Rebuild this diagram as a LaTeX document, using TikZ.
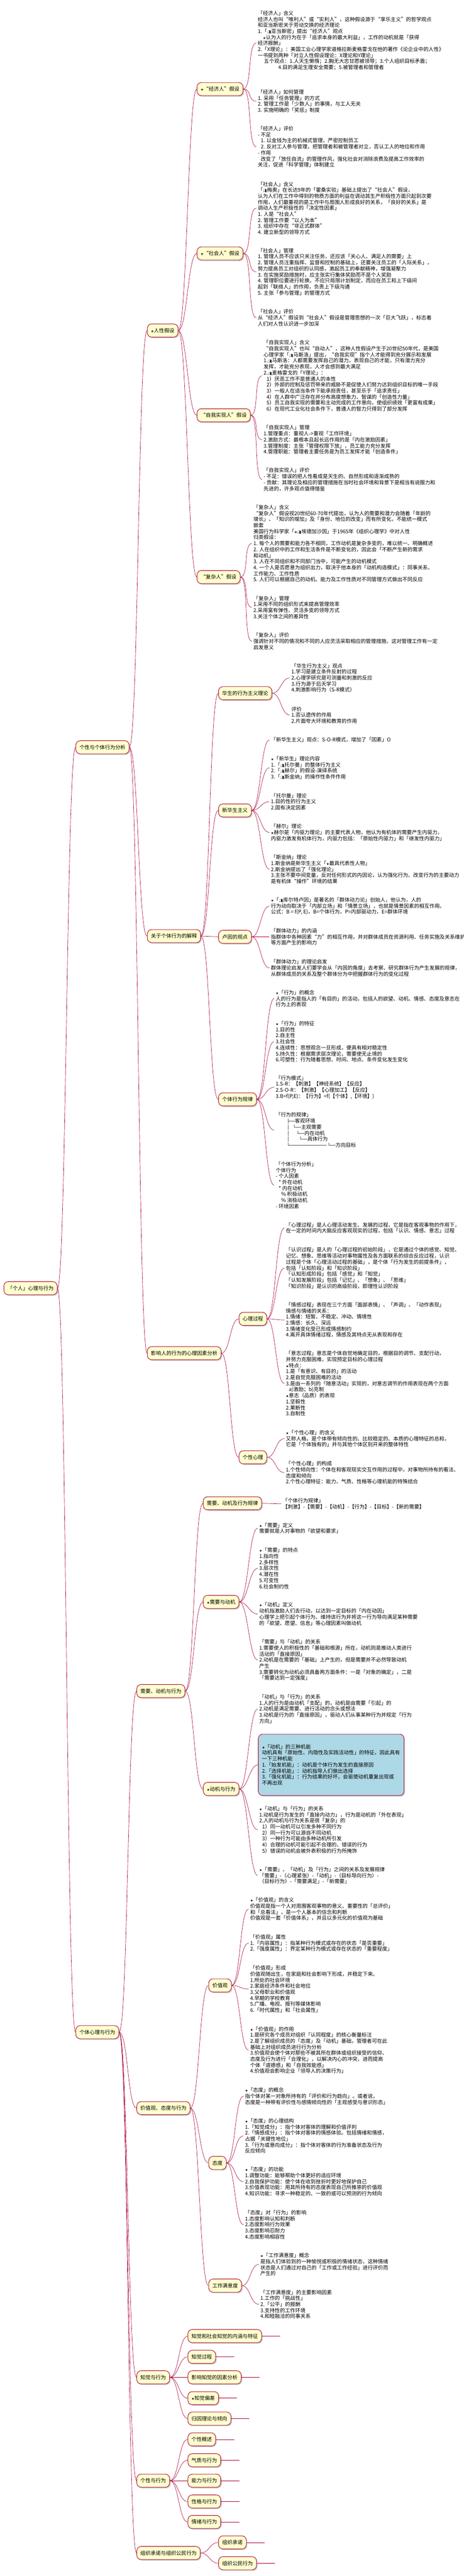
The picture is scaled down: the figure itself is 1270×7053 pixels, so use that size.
\documentclass[tikz,border=0pt]{standalone}
\usepackage{fontspec}
\setmainfont{Noto Sans CJK SC}
\newfontfamily\symfont{DejaVu Sans}
\newfontfamily\treefont{DejaVu Sans Mono}
\newfontfamily\emojifont{Noto Emoji}
\usetikzlibrary{shadows}
\definecolor{umlred}{HTML}{A80036}
\definecolor{umlyellow}{HTML}{FEFECE}
\definecolor{umlblue}{HTML}{ADD8E6}
\newcommand\xing{{\symfont\fontsize{9}{9}\selectfont★}}
\newcommand\renwu{{\emojifont\fontsize{9}{9}\selectfont 👥}}
\newcommand\tf{\treefont\fontsize{12}{16.5}\selectfont}

\begin{document}
\begin{tikzpicture}[x=1pt, y=-1pt, font=\fontsize{14}{16.5}\selectfont,
    topic/.style={draw=umlred, line width=1.3pt, fill=umlyellow, rounded corners=12pt, anchor=west, minimum height=36pt, inner xsep=10pt, drop shadow={shadow xshift=3pt, shadow yshift=-3pt, opacity=.35}},
    note/.style={anchor=west, align=left, inner xsep=4pt, inner ysep=1pt, xshift=-4pt},
    link/.style={draw=umlred, line width=.9pt, to path={(\tikztostart.east) .. controls ([xshift=24pt]\tikztostart.east) and ([xshift=-24pt]\tikztotarget.west) .. (\tikztotarget.west)}},
    stub/.style={draw=umlred, line width=.9pt}]
    \useasboundingbox (0,0) rectangle (1270,7053);

    \node[topic] (gr)   at (10,3527)  {「个人」心理与行为};
    \node[topic] (gxfx) at (207,2046) {个性与个体行为分析};
    \node[topic] (gtxl) at (207,5564) {个体心理与行为};

    \node[topic] (rxjs) at (403,905)  {\xing 人性假设};
    \node[topic] (jsxw) at (403,2563) {关于个体行为的解释};
    \node[topic] (yxxl) at (403,3705) {影响人的行为的心理因素分析};

    \node[topic] (jjr)  at (539,244)  {\xing“经济人”假设};
    \node[topic] (shr)  at (539,694)  {\xing“社会人”假设};
    \node[topic] (zwsx) at (539,1137) {“自我实现人”假设};
    \node[topic] (fzr)  at (539,1580) {“复杂人”假设};
    \node[topic] (hs)   at (598,1898) {华生的行为主义理论};
    \node[topic] (xhs)  at (598,2219) {新华生主义};
    \node[topic] (ly)   at (598,2565) {卢因的观点};
    \node[topic] (gtgl) at (598,3010) {个体行为规律};
    \node[topic] (xlgc) at (654,3611) {心理过程};
    \node[topic] (gxxl) at (654,3990) {个性心理};

    \node[topic] (xyd)  at (374,4630) {需要、动机与行为};
    \node[topic] (jzt)  at (374,5772) {价值观、态度与行为};
    \node[topic] (zj)   at (374,6509) {知觉与行为};
    \node[topic] (gx)   at (374,6792) {个性与行为};
    \node[topic] (zzcn) at (374,6990) {组织承诺与组织公民行为};

    \node[topic] (xdgl) at (556,4116) {需要、动机及行为规律};
    \node[topic] (xydj) at (556,4386) {\xing 需要与动机};
    \node[topic] (djxw) at (556,4898) {\xing 动机与行为};
    \node[topic] (jzg)  at (571,5436) {价值观};
    \node[topic] (td)   at (571,5922) {态度};
    \node[topic] (gzmy) at (571,6258) {工作满意度};

    \node[topic] (zj1) at (514,6396) {知觉和社会知觉的内涵与特征};
    \node[topic] (zj2) at (514,6453) {知觉过程};
    \node[topic] (zj3) at (514,6509) {影响知觉的因素分析};
    \node[topic] (zj4) at (514,6566) {\xing 知觉偏差};
    \node[topic] (zj5) at (514,6622) {归因理论与倾向};
    \node[topic] (gx1) at (514,6679) {个性概述};
    \node[topic] (gx2) at (514,6736) {气质与行为};
    \node[topic] (gx3) at (514,6792) {能力与行为};
    \node[topic] (gx4) at (514,6849) {性格与行为};
    \node[topic] (gx5) at (514,6905) {情绪与行为};
    \node[topic] (zz1) at (598,6961) {组织承诺};
    \node[topic] (zz2) at (598,7018) {组织公民行为};

    \node[note] (n1) at (706,118) {「经济人」含义\\经济人也叫“唯利人”或“实利人”，这种假设源于“享乐主义”的哲学观点\\和亚当斯密关于劳动交换的经济理论\\1.「\renwu 亚当斯密」提出“经济人”观点\\\hspace*{14pt}\xing 认为人的行为在于「追求本身的最大利益」，工作的动机就是「获得\\经济报酬」\\2.「X理论」：美国工业心理学家道格拉斯麦格雷戈在他的著作《论企业中的人性》\\一书提到两种「对立人性假设理论：X理论和Y理论」\\\hspace*{17pt}五个观点：1.人天生懒惰；2.胸无大志甘愿被领导；3.个人组织目标矛盾；\\\hspace*{56pt}4.目的满足生理安全需要；5.被管理者和管理者\\~};
    \node[note] (n2) at (706,277) {「经济人」如何管理\\1. 采用「任务管理」的方式\\2. 管理工作是「少数人」的事情，与工人无关\\3. 实施明确的「奖惩」制度};
    \node[note] (n3) at (706,402) {「经济人」评价\\- 不足\\\hspace*{8pt}1. 以金钱为主的机械式管理，严密控制员工\\\hspace*{8pt}2. 反对工人参与管理，把管理者和被管理者对立，否认工人的地位和作用\\- 作用\\\hspace*{8pt}改变了「放任自流」的管理作风，强化社会对消除浪费及提高工作效率的\\关注，促进「科学管理」体制建立};
    \node[note] (n4) at (706,570) {「社会人」含义\\「\renwu 梅奥」在长达9年的「霍桑实验」基础上提出了“社会人”假设，\\认为人们在工作中得到的物质方面的利益在调动其生产积极性方面只起到次要\\作用，人们最重视的是工作中与周围人形成良好的关系，「良好的关系」是\\调动人生产积极性的「决定性因素」\\1. 人是“社会人”\\2. 管理工作要“以人为本”\\3. 组织中存在“非正式群体”\\4. 建立新型的领导方式};
    \node[note] (n5) at (706,744) {「社会人」管理\\1. 管理人员不应该只关注任务，还应该「关心人、满足人的需要」上\\2. 管理人员注重指挥、监督和控制的基础上，还要关注员工的「人际关系」，\\努力提高员工对组织的认同感，激起员工的奉献精神，增强凝聚力\\3. 在实施奖励措施时，应主张实行集体奖励而不是个人奖励\\4. 管理职位要进行轮换，不应只局限计划制定，而应在员工和上下级间\\起到「联络人」的作用，负责上下级沟通\\5. 主张「参与管理」的管理方式};
    \node[note] (n6) at (706,870) {「社会人」评价\\从“经济人”假设到“社会人”假设是管理思想的一次「巨大飞跃」，标志着\\人们对人性认识进一步加深};
    \node[note] (n7) at (722,1029) {「自我实现人」含义\\“自我实现人”也叫“自动人”，这种人性假设产生于20世纪50年代，是美国\\心理学家「\renwu 马斯洛」提出，“自我实现”指个人才能得到充分展示和发展\\1.\renwu 马斯洛：人都需要发挥自己的潜力，表现自己的才能，只有潜力充分\\发挥，才能充分表现，人才会感到最大满足\\2.\renwu 麦格雷戈的「Y理论」：\\\hspace*{8pt}1）厌恶工作不是普通人的本性\\\hspace*{8pt}2）外部的控制及惩罚带来的威胁不是促使人们努力达到组织目标的唯一手段\\\hspace*{8pt}3）一般人在适当条件下能承担责任，甚至乐于「追求责任」\\\hspace*{8pt}4）在人群中广泛存在并分布高度想象力、智谋的「创造性力量」\\\hspace*{8pt}5）员工自我实现的需要和主动完成的工作意向，使组织绩效「更富有成果」\\\hspace*{8pt}6）在现代工业化社会条件下，普通人的智力只得到了部分发挥};
    \node[note] (n8) at (722,1204) {「自我实现人」管理\\1.管理重点：重视人->重视「工作环境」\\2.激励方式：最根本且起长远作用的是「内在激励因素」\\3.管理制度：主张「管理权限下放」，员工能力充分发挥\\4.管理职能：管理者主要任务是为员工发挥才能「创造条件」};
    \node[note] (n9) at (722,1313) {「自我实现人」评价\\- 不足：错误的把人性看成是天生的、自然形成和逐渐成熟的\\- 贡献：其理论及相应的管理措施在当时社会环境和背景下是相当有说服力和\\先进的，许多观点值得借鉴};
    \node[note] (n10) at (694,1488) {「复杂人」含义\\“复杂人”假设视20世纪60-70年代提出，认为人的需要和潜力会随着「年龄的\\增长」、「知识的增加」及「身份、地位的改变」而有所变化，不能统一模式\\嵌套\\美国行为科学家「\xing\renwu 埃德加沙因」于1965年《组织心理学》中对人性\\归类假设：\\1. 每个人的需要和能力各不相同，工作动机是复杂多变的，难以统一、明确概述\\2. 人在组织中的工作和生活条件是不断变化的，因此会「不断产生新的需求\\和动机」\\3. 人在不同组织和不同部门当中，可能产生的动机模式\\4. 一个人是否愿意为组织出力，取决于他本身的「动机构造模式」：同事关系、\\工作能力、工作性质\\5. 人们可以根据自己的动机、能力及工作性质对不同管理方式做出不同反应};
    \node[note] (n11) at (694,1663) {「复杂人」管理\\1.采用不同的组织形式来提高管理效率\\2.采用富有弹性、灵活多变的领导方式\\3.关注个体之间的差异性};
    \node[note] (n12) at (694,1756) {「复杂人」评价\\强调针对不同的情况和不同的人应灵活采取相应的管理措施，这对管理工作有一定\\启发意义};

    \node[note] (n13) at (798,1856) {「华生行为主义」观点\\1.学习是建立条件反射的过程\\2.心理学研究是可测量和刺激的反应\\3.行为源于后天学习\\4.刺激影响行为（S-R模式）};
    \node[note] (n14) at (798,1958) {评价\\1.否认遗传的作用\\2.片面夸大环境和教育的作用};
    \node[note] (n15) at (742,2026) {「新华生主义」观点：S-O-R模式，增加了「因素」O};
    \node[note] (n16) at (742,2102) {\xing「新华生」理论内容\\1.「\renwu 托尔曼」的整体行为主义\\2.「\renwu 赫尔」的假设-演绎系统\\3.「\renwu 斯金纳」的操作性条件作用};
    \node[note] (n17) at (742,2195) {「托尔曼」理论\\1.目的性的行为主义\\2.固有决定因素};
    \node[note] (n18) at (742,2279) {「赫尔」理论\\\xing 赫尔是「内驱力理论」的主要代表人物，他认为有机体的需要产生内驱力，\\内驱力激发有机体行为，内驱力包括：「原始性内驱力」和「继发性内驱力」};
    \node[note] (n19) at (742,2380) {「斯金纳」理论\\1.斯金纳是新华生主义「\xing 最具代表性人物」\\2.斯金纳提出了「强化理论」\\3.主张不要中间变量，反对任何形式的内因论，认为强化行为、改变行为的主要动力\\是有机体“操作”环境的结果};
    \node[note] (n20) at (742,2481) {\xing「\renwu 库尔特卢因」是著名的「群体动力论」创始人，他认为，人的\\行为动向取决于「内部立场」和「情景立场」，也就是情景因素的相互作用。\\公式：B = f(P, E)，B=个体行为，P=内部驱动力，E=群体环境};
    \node[note] (n21) at (742,2565) {「群体动力」的内涵\\指群体中各种因素“力”的相互作用，并对群体成员在资源利用、任务实施及关系维护\\等方面产生的影响力};
    \node[note] (n22) at (742,2650) {「群体动力」的理论启发\\群体理论启发人们要学会从「内因的角度」去考察、研究群体行为产生发展的规律，\\从群体成员的关系及整个群体分为中把握群体行为的变化过程};
    \node[note] (n23) at (755,2734) {\xing「行为」的概念\\人的行为是指人的「有目的」的活动，包括人的欲望、动机、情感、态度及意志在\\行为上的表现};
    \node[note] (n24) at (755,2852) {\xing「行为」的特征\\1.目的性\\2.自主性\\3.社会性\\4.连续性：思想观念一旦形成，便具有相对稳定性\\5.持久性：根据需求层次理论，需要使无止境的\\6.可塑性：行为随着思想、时间、地点、条件变化发生变化};
    \node[note] (n25) at (755,2977) {「行为模式」\\1.S-R：【刺激】【神经系统】【反应】\\2.S-O-R：【刺激】【心理加工】【反应】\\3.B=f(P,E)：【行为】=f(【个体】,【环境】)};
    \node[note] (n26) at (755,3094) {「行为的规律」\\\hspace*{31pt}{\tf ├──}客观环境\\\hspace*{31pt}\rlap{\tf │}\hspace*{17pt}{\tf └──}主观需要\\\hspace*{31pt}\rlap{\tf │}\hspace*{26pt}{\tf └──}内在动机\\\hspace*{31pt}\rlap{\tf │}\hspace*{34pt}{\tf └──}具体行为\\\hspace*{31pt}{\tf └──────────────}\hspace*{3pt}{\tf └──}方向目标};
    \node[note] (n27) at (755,3245) {「个体行为分析」\\个体行为\\- 个人因素\\\hspace*{8pt}* 外在动机\\\hspace*{8pt}* 内在动机\\\hspace*{15pt}\% 积极动机\\\hspace*{15pt}\% 消极动机\\- 环境因素};

    \node[note] (n28) at (783,3362) {「心理过程」是人心理活动发生、发展的过程，它是指在客观事物的作用下，\\在一定的时间内大脑反应客观现实的过程，包括「认识、情感、意志」过程};
    \node[note] (n29) at (783,3472) {「认识过程」是人的「心理过程的初始阶段」，它是通过个体的感觉、知觉、\\记忆、想象、思维等活动对事物属性及各方面联系的综合反应过程，认识\\过程是个体「心理活动过程的基础」，是个体「行为发生的前提条件」，\\包括「认知阶段」和「知识阶段」\\「认知形成阶段」包括「感觉」和「知觉」\\「认知发展阶段」包括「记忆」、「想象」、「思维」\\「知识阶段」是认识的高级阶段，即理性认识阶段};
    \node[note] (n30) at (783,3614) {「情感过程」表现在三个方面「面部表情」、「声调」、「动作表现」\\情感与情绪的关系：\\1.情绪：短暂、不稳定、冲动、情境性\\2.情感：长久、深远\\3.情绪变化受已形成情感制约\\4.离开具体情绪过程，情感及其特点无从表现和存在};
    \node[note] (n31) at (783,3788) {「意志过程」意志是个体自觉地确定目的，根据目的调节、支配行动，\\并努力克服困难，实现预定目标的心理过程\\\xing 特点：\\1.是「有意识、有目的」的活动\\2.是自觉克服困难的活动\\3.是由一系列的「随意活动」实现的，对意志调节的作用表现在两个方面\\\hspace*{8pt}a)激励；b)克制\\\xing 意志（品质）的表现\\1.坚毅性\\2.果断性\\3.自制性};
    \node[note] (n32) at (783,3939) {\xing「个性心理」的含义\\又称人格，是个体带有倾向性的、比较稳定的、本质的心理特征的总和，\\它是「个体独有的」并与其他个体区别开来的整体特性};
    \node[note] (n33) at (783,4032) {「个性心理」的构成\\1.个性倾向性：个体在和客观现实交互作用的过程中，对事物所持有的看法、\\态度和倾向\\2.个性心理特征：能力、气质、性格等心理机能的特殊结合};

    \node[note] (n34) at (774,4117) {「个体行为规律」\\【刺激】-【需要】-【动机】-【行为】-【目标】-【新的需要】};
    \node[note] (n35) at (710,4184) {\xing「需要」定义\\需要就是人对事物的「欲望和要求」};
    \node[note] (n36) at (710,4294) {\xing「需要」的特点\\1.指向性\\2.多样性\\3.层次性\\4.潜在性\\5.可变性\\6.社会制约性};
    \node[note] (n37) at (710,4419) {\xing「动机」定义\\动机指激励人们去行动，以达到一定目标的「内在动因」\\心理学上把引起个体行为、维持该行为并将这一行为导向满足某种需要\\的「欲望、愿望、信息」等心理因素叫做动机};
    \node[note] (n38) at (710,4545) {「需要」与「动机」的关系\\1.需要使人的积极性的「基础和根源」所在，动机则是推动人类进行\\活动的「直接原因」\\2.动机是在需要的「基础」上产生的，但是需要并不必然导致动机\\产生\\3.需要转化为动机必须具备两方面条件：一是「对象的确定」，二是\\「需要达到一定强度」};
    \node[note] (n39) at (710,4679) {「动机」与「行为」的关系\\1.人的行为是由动机「支配」的，动机是由需要「引起」的\\2.动机是满足需要、进行活动的念头或想法\\3.动机是行为的「直接原因」，驱动人们从事某种行为并规定「行为\\方向」};
    \node[topic, fill=umlblue, align=left, text width=379pt, minimum height=168pt] (n40) at (707,4832) {\xing「动机」的三种机能\\动机具有「原始性、内隐性及实践活动性」的特征，因此具有\\一下三种机能\\1.「始发机能」：动机是个体行为发生的直接原因\\2.「选择机能」：动机指导人们做出选择\\3.「强化机能」：行为结果的好坏，会驱使动机重复出现或\\不再出现};
    \node[note] (n41) at (710,5010) {\xing「动机」与「行为」的关系\\1.动机是行为发生的「直接内动力」，行为是动机的「外在表现」\\2.人的动机与行为关系是很「复杂」的\\\hspace*{8pt}1）同一动机可以引发多种不同行为\\\hspace*{8pt}2）同一行为可以源自不同动机\\\hspace*{8pt}3）一种行为可能由多种动机所引发\\\hspace*{8pt}4）合理的动机可能引起不合理的、错误的行为\\\hspace*{8pt}5）错误的动机会被外表积极的行为所掩饰};
    \node[note] (n42) at (710,5135) {\xing「需要」、「动机」及「行为」之间的关系及发展规律\\「需要」-（心理紧张）-「动机」-（目标导向行为）-\\（目标行为）-「需要满足」-「新需要」};

    \node[note] (n43) at (685,5227) {\xing「价值观」的含义\\价值观是指一个人对周围客观事物的意义、重要性的「总评价」\\和「总看法」，是一个人基本的信念和判断\\价值观是一套「价值体系」，并且以多元化的价值观为基础};
    \node[note] (n44) at (685,5320) {「价值观」属性\\1.「内容属性」：指某种行为模式或存在的状态「是否重要」\\2.「强度属性」：界定某种行为模式或存在状态的「重要程度」};
    \node[note] (n45) at (685,5446) {「价值观」形成\\价值观随出生，在家庭和社会影响下形成，并稳定下来。\\1.所处的社会环境\\2.家庭经济条件和社会地位\\3.父母职业和价值观\\4.早期的学校教育\\5.广播、电视、报刊等媒体影响\\6.「时代属性」和「社会属性」};
    \node[note] (n46) at (685,5613) {\xing「价值观」的作用\\1.是研究各个成员对组织「认同程度」的核心衡量标注\\2.是了解组织成员的「态度」及「动机」基础，管理者可在此\\基础上对组织成员进行行为分析\\3.价值观会使个体对那些不被其所在群体或组织接受的信仰、\\态度及行为进行「合理化」，以解决内心的冲突，进而提高\\个体「道德感」和「自我效能感」\\4.价值观会影响企业「领导人的决策行为」};
    \node[note] (n47) at (671,5739) {\xing「态度」的概念\\指个体对某一对象所持有的「评价和行为趋向」。或者说，\\态度是一种带有评价性与感情倾向性的「主观感受与意识形态」};
    \node[note] (n48) at (671,5848) {\xing「态度」的心理结构\\1.「知觉成分」：指个体对客体的理解和价值评判\\2.「情感成分」：指个体对客体的情感体验。包括情绪和情感，\\占据「关键性地位」\\3.「行为或意向成分」：指个体对客体的行为准备状态及行为\\反应倾向};
    \node[note] (n49) at (671,5973) {\xing「态度」的功能\\1.调整功能：能够帮助个体更好的适应环境\\2.自我保护功能：使个体在收到挫折时更好地保护自己\\3.价值表现功能：用其所持有的态度表现自己所推崇的价值观\\4.知识功能：寻求一种稳定的、一致的或可以预测的行为倾向};
    \node[note] (n50) at (671,6091) {「态度」对「行为」的影响\\1.态度影响认知和判断\\2.态度影响行为效果\\3.态度影响忍耐力\\4.态度影响相容性};
    \node[note] (n51) at (713,6200) {\xing「工作满意度」概念\\是指人们体验到的一种愉悦或积极的情绪状态，这种情绪\\状态是人们通过对自己的「工作或工作经验」进行评价而\\产生的};
    \node[note] (n52) at (713,6309) {「工作满意度」的主要影响因素\\1.工作的「挑战性」\\2.「公平」的报酬\\3.支持性的工作环境\\4.和睦融洽的同事关系};

    \coordinate (zj1e) at ([xshift=50pt]zj1.east);
    \coordinate (zj2e) at ([xshift=50pt]zj2.east);
    \coordinate (zj3e) at ([xshift=50pt]zj3.east);
    \coordinate (zj4e) at ([xshift=50pt]zj4.east);
    \coordinate (zj5e) at ([xshift=50pt]zj5.east);
    \coordinate (gx1e) at ([xshift=50pt]gx1.east);
    \coordinate (gx2e) at ([xshift=50pt]gx2.east);
    \coordinate (gx3e) at ([xshift=50pt]gx3.east);
    \coordinate (gx4e) at ([xshift=50pt]gx4.east);
    \coordinate (gx5e) at ([xshift=50pt]gx5.east);
    \coordinate (zz1e) at ([xshift=50pt]zz1.east);
    \coordinate (zz2e) at ([xshift=50pt]zz2.east);

    \path (gr)   edge[link] (gxfx);
    \path (gr)   edge[link] (gtxl);
    \path (gxfx) edge[link] (rxjs);
    \path (gxfx) edge[link] (jsxw);
    \path (gxfx) edge[link] (yxxl);
    \path (rxjs) edge[link] (jjr);
    \path (rxjs) edge[link] (shr);
    \path (rxjs) edge[link] (zwsx);
    \path (rxjs) edge[link] (fzr);
    \path (jjr)  edge[link] (n1);
    \path (jjr)  edge[link] (n2);
    \path (jjr)  edge[link] (n3);
    \path (shr)  edge[link] (n4);
    \path (shr)  edge[link] (n5);
    \path (shr)  edge[link] (n6);
    \path (zwsx) edge[link] (n7);
    \path (zwsx) edge[link] (n8);
    \path (zwsx) edge[link] (n9);
    \path (fzr)  edge[link] (n10);
    \path (fzr)  edge[link] (n11);
    \path (fzr)  edge[link] (n12);
    \path (jsxw) edge[link] (hs);
    \path (jsxw) edge[link] (xhs);
    \path (jsxw) edge[link] (ly);
    \path (jsxw) edge[link] (gtgl);
    \path (hs)   edge[link] (n13);
    \path (hs)   edge[link] (n14);
    \path (xhs)  edge[link] (n15);
    \path (xhs)  edge[link] (n16);
    \path (xhs)  edge[link] (n17);
    \path (xhs)  edge[link] (n18);
    \path (xhs)  edge[link] (n19);
    \path (ly)   edge[link] (n20);
    \path (ly)   edge[link] (n21);
    \path (ly)   edge[link] (n22);
    \path (gtgl) edge[link] (n23);
    \path (gtgl) edge[link] (n24);
    \path (gtgl) edge[link] (n25);
    \path (gtgl) edge[link] (n26);
    \path (gtgl) edge[link] (n27);
    \path (yxxl) edge[link] (xlgc);
    \path (yxxl) edge[link] (gxxl);
    \path (xlgc) edge[link] (n28);
    \path (xlgc) edge[link] (n29);
    \path (xlgc) edge[link] (n30);
    \path (xlgc) edge[link] (n31);
    \path (gxxl) edge[link] (n32);
    \path (gxxl) edge[link] (n33);
    \path (gtxl) edge[link] (xyd);
    \path (gtxl) edge[link] (jzt);
    \path (gtxl) edge[link] (zj);
    \path (gtxl) edge[link] (gx);
    \path (gtxl) edge[link] (zzcn);
    \path (xyd)  edge[link] (xdgl);
    \path (xyd)  edge[link] (xydj);
    \path (xyd)  edge[link] (djxw);
    \path (xdgl) edge[link] (n34);
    \path (xydj) edge[link] (n35);
    \path (xydj) edge[link] (n36);
    \path (xydj) edge[link] (n37);
    \path (xydj) edge[link] (n38);
    \path (djxw) edge[link] (n39);
    \path (djxw) edge[link] (n40);
    \path (djxw) edge[link] (n41);
    \path (djxw) edge[link] (n42);
    \path (jzt)  edge[link] (jzg);
    \path (jzt)  edge[link] (td);
    \path (jzt)  edge[link] (gzmy);
    \path (jzg)  edge[link] (n43);
    \path (jzg)  edge[link] (n44);
    \path (jzg)  edge[link] (n45);
    \path (jzg)  edge[link] (n46);
    \path (td)   edge[link] (n47);
    \path (td)   edge[link] (n48);
    \path (td)   edge[link] (n49);
    \path (td)   edge[link] (n50);
    \path (gzmy) edge[link] (n51);
    \path (gzmy) edge[link] (n52);
    \path (zj)   edge[link] (zj1);
    \path (zj)   edge[link] (zj2);
    \path (zj)   edge[link] (zj3);
    \path (zj)   edge[link] (zj4);
    \path (zj)   edge[link] (zj5);
    \path (gx)   edge[link] (gx1);
    \path (gx)   edge[link] (gx2);
    \path (gx)   edge[link] (gx3);
    \path (gx)   edge[link] (gx4);
    \path (gx)   edge[link] (gx5);
    \path (zzcn) edge[link] (zz1);
    \path (zzcn) edge[link] (zz2);
    \path (zj1)  edge[stub] (zj1e);
    \path (zj2)  edge[stub] (zj2e);
    \path (zj3)  edge[stub] (zj3e);
    \path (zj4)  edge[stub] (zj4e);
    \path (zj5)  edge[stub] (zj5e);
    \path (gx1)  edge[stub] (gx1e);
    \path (gx2)  edge[stub] (gx2e);
    \path (gx3)  edge[stub] (gx3e);
    \path (gx4)  edge[stub] (gx4e);
    \path (gx5)  edge[stub] (gx5e);
    \path (zz1)  edge[stub] (zz1e);
    \path (zz2)  edge[stub] (zz2e);
\end{tikzpicture}
\end{document}
